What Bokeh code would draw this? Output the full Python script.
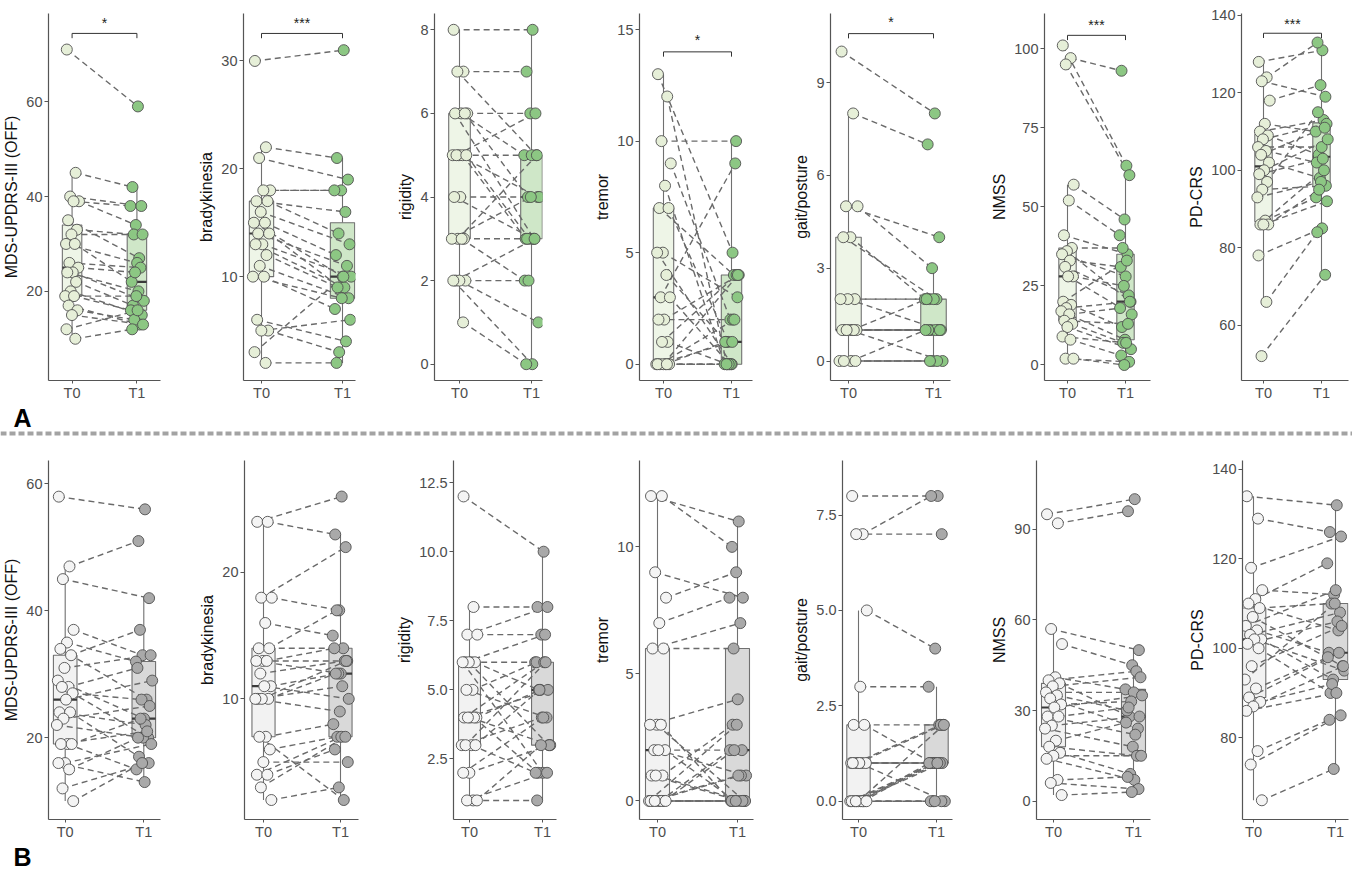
import numpy as np
from bokeh.plotting import figure
from bokeh.layouts import column, row
from bokeh.models import Range1d, FixedTicker, Label, Span
from bokeh.core.properties import value
from bokeh.embed import file_html
from bokeh.resources import INLINE

FONT = "Liberation Sans"

# ------------------------------------------------------------------ data
time_points = ["T0", "T1"]
measure_names = ["MDS-UPDRS-III (OFF)", "bradykinesia", "rigidity", "tremor",
                 "gait/posture", "NMSS", "PD-CRS"]
panel_letters = ["A", "B"]

# Row A (green)
a_updrs_t0 = [71, 45, 40, 39, 39, 35, 33, 32, 30, 30, 26, 25, 24, 24, 22, 20, 19, 19, 17, 16, 15, 12, 10]
a_updrs_t1 = [59, 42, 38, 34, 38, 27, 32, 32, 26, 22, 25, 24, 18, 20, 17, 15, 19, 16, 13, 14, 13, 16, 12]
a_brady_t0 = [30, 22, 21, 18, 18, 17, 17, 16, 15, 15, 14, 14, 13, 13, 12, 11, 10, 10, 6, 5, 5, 3, 2]
a_brady_t1 = [31, 21, 19, 18, 18, 16, 14, 13, 10, 12, 11, 9, 10, 9, 9, 8, 8, 7, 4, 3, 6, 10, 2]
a_rig_t0 = [8, 7, 7, 6, 6, 6, 6, 5, 5, 5, 5, 5, 4, 4, 3, 3, 3, 3, 2, 2, 2, 2, 1]
a_rig_t1 = [8, 7, 5, 6, 5, 3, 4, 4, 5, 3, 6, 3, 4, 3, 3, 5, 4, 2, 3, 2, 1, 0, 0]
a_trem_t0 = [13, 12, 10, 9, 8, 7, 7, 5, 5, 4, 3, 3, 2, 2, 1, 1, 0, 0, 0, 0, 0, 0, 0]
a_trem_t1 = [5, 0, 10, 2, 0, 4, 1, 3, 0, 1, 9, 0, 4, 2, 0, 4, 0, 1, 2, 0, 4, 1, 0]
a_gait_t0 = [10, 8, 5, 5, 4, 4, 2, 2, 2, 1, 1, 1, 1, 1, 1, 1, 0, 0, 0, 0]
a_gait_t1 = [8, 7, 4, 3, 2, 2, 2, 1, 2, 2, 1, 1, 0, 1, 1, 1, 0, 1, 0, 0]
a_nmss_t0 = [101, 97, 95, 57, 52, 41, 37, 36, 35, 33, 31, 28, 28, 20, 19, 18, 17, 16, 14, 13, 12, 9, 8, 2, 2]
a_nmss_t1 = [63, 93, 60, 46, 41, 35, 37, 20, 28, 31, 22, 25, 16, 33, 12, 20, 8, 18, 13, 7, 5, 7, 3, 1, 0]
a_pdcrs_t0 = [128, 124, 123, 118, 112, 110, 109, 108, 106, 105, 104, 102, 100, 99, 97, 95, 93, 87, 86, 86, 86, 78, 66, 52]
a_pdcrs_t1 = [131, 133, 119, 122, 110, 113, 104, 112, 106, 102, 111, 98, 108, 103, 115, 96, 97, 93, 100, 95, 92, 85, 84, 73]

# Row B (grey)
b_updrs_t0 = [58, 47, 45, 37, 35, 34, 33, 31, 29, 28, 28, 27, 26, 24, 24, 23, 22, 19, 19, 19, 16, 16, 15, 12, 10]
b_updrs_t1 = [56, 51, 42, 33, 32, 26, 37, 33, 23, 31, 20, 26, 29, 22, 17, 25, 20, 15, 21, 23, 19, 13, 20, 16, 16]
b_brady_t0 = [24, 24, 18, 18, 16, 14, 14, 13, 13, 13, 12, 11, 11, 10, 10, 10, 10, 7, 7, 6, 5, 4, 4, 3, 2]
b_brady_t1 = [26, 23, 22, 17, 15, 14, 17, 13, 12, 14, 13, 12, 10, 11, 12, 13, 9, 8, 2, 7, 5, 7, 6, 7, 3]
b_rig_t0 = [12, 8, 7, 7, 6, 6, 6, 6, 6, 5, 5, 4, 4, 4, 4, 4, 3, 3, 3, 3, 2, 2, 1, 1, 1]
b_rig_t1 = [10, 8, 8, 7, 6, 7, 5, 3, 2, 6, 4, 5, 3, 6, 2, 5, 4, 2, 6, 5, 3, 4, 1, 2, 3]
b_trem_t0 = [12, 12, 9, 8, 7, 6, 6, 3, 3, 3, 2, 2, 2, 1, 1, 1, 0, 0, 0, 0, 0, 0, 0, 0, 0]
b_trem_t1 = [11, 10, 8, 9, 8, 7, 6, 0, 4, 0, 2, 0, 1, 0, 3, 0, 3, 2, 1, 2, 0, 1, 0, 0, 0]
b_gait_t0 = [8, 7, 7, 5, 3, 2, 2, 1, 1, 1, 1, 1, 1, 1, 0, 0, 0, 0, 0, 0, 0, 0, 0, 0, 0]
b_gait_t1 = [8, 8, 7, 4, 3, 2, 1, 2, 1, 1, 2, 1, 0, 1, 1, 1, 1, 1, 1, 0, 2, 1, 0, 0, 0]
b_nmss_t0 = [95, 92, 57, 52, 41, 40, 39, 38, 36, 35, 34, 32, 31, 28, 28, 25, 24, 20, 18, 16, 15, 14, 7, 6, 2]
b_nmss_t1 = [100, 96, 50, 45, 37, 43, 28, 41, 36, 30, 24, 33, 35, 22, 31, 28, 18, 26, 15, 9, 15, 7, 8, 4, 3]
b_pdcrs_t0 = [134, 129, 118, 113, 111, 110, 109, 107, 105, 104, 103, 102, 102, 101, 100, 96, 93, 91, 89, 88, 87, 86, 77, 74, 66]
b_pdcrs_t1 = [132, 126, 125, 112, 119, 104, 110, 96, 113, 99, 108, 93, 95, 106, 90, 105, 110, 98, 99, 92, 96, 90, 84, 85, 73]

# tick values / labels
ticks_a = [[20, 40, 60], [10, 20, 30], [0, 2, 4, 6, 8], [0, 5, 10, 15], [0, 3, 6, 9],
           [0, 25, 50, 75, 100], [60, 80, 100, 120, 140]]
tick_labels_a = [["20", "40", "60"], ["10", "20", "30"], ["0", "2", "4", "6", "8"],
                 ["0", "5", "10", "15"], ["0", "3", "6", "9"], ["0", "25", "50", "75", "100"],
                 ["60", "80", "100", "120", "140"]]
ticks_b = [[20, 40, 60], [10, 20], [2.5, 5.0, 7.5, 10.0, 12.5], [0, 5, 10], [0.0, 2.5, 5.0, 7.5],
           [0, 30, 60, 90], [80, 100, 120, 140]]
tick_labels_b = [["20", "40", "60"], ["10", "20"], ["2.5", "5.0", "7.5", "10.0", "12.5"],
                 ["0", "5", "10"], ["0.0", "2.5", "5.0", "7.5"], ["0", "30", "60", "90"],
                 ["80", "100", "120", "140"]]

# y axis ranges
yrange_a = [(1.2, 78.6), (0.37, 34.4), (-0.39, 8.39), (-0.73, 15.72), (-0.63, 11.23),
            (-4.9, 111.1), (45.7, 140.5)]
yrange_b = [(7.1, 63.7), (0.46, 28.85), (0.31, 13.3), (-0.73, 13.4), (-0.48, 8.93),
            (-6.1, 112.8), (61.7, 142.0)]

# significance annotations (row A)
sig_labels_a = ["*", "***", None, "*", "*", "***", "***"]
sig_bracket_a = [74.4, 32.55, None, 14.0, 10.58, 104.2, 135.4]
sig_text_a = [76.7, 33.56, None, 14.51, 10.94, 107.4, 137.9]

series_a = [(a_updrs_t0, a_updrs_t1), (a_brady_t0, a_brady_t1), (a_rig_t0, a_rig_t1),
            (a_trem_t0, a_trem_t1), (a_gait_t0, a_gait_t1), (a_nmss_t0, a_nmss_t1),
            (a_pdcrs_t0, a_pdcrs_t1)]
series_b = [(b_updrs_t0, b_updrs_t1), (b_brady_t0, b_brady_t1), (b_rig_t0, b_rig_t1),
            (b_trem_t0, b_trem_t1), (b_gait_t0, b_gait_t1), (b_nmss_t0, b_nmss_t1),
            (b_pdcrs_t0, b_pdcrs_t1)]

# ------------------------------------------------------------------ layout (page pixels)
# (y-axis x, T0 x, T1 x, frame right, figure start, figure end)
geom_a = [(46, 70, 136, 160, 0, 164), (243, 261, 342, 355, 164, 359),
          (434, 459, 531, 542, 359, 546), (639, 663, 731, 752, 546, 756),
          (830, 848, 933, 950, 756, 954), (1044, 1067, 1125, 1150, 954, 1154),
          (1241, 1263, 1321, 1348, 1154, 1352)]
geom_b = [(46, 63, 143, 160, 0, 164), (244, 263, 340, 358, 164, 362),
          (453, 469, 542, 556, 362, 560), (639, 657, 737, 753, 560, 757),
          (842, 858, 936, 952, 757, 956), (1036, 1053, 1133, 1150, 956, 1154),
          (1242, 1253, 1335, 1348, 1154, 1352)]

pal_a = dict(pt0="#e6efd8", pt1="#8cc783", box0="#eef5e7", box1="#cfe7c8")
pal_b = dict(pt0="#f4f4f4", pt1="#a9a9a9", box0="#f2f2f2", box1="#d9d9d9")
BOX_LINE = "#707070"
MED_LINE = "#3a3a3a"
AXIS_COL = "#555555"
TOTAL_W = 1352


def jit(n, shift):
    k = np.arange(n)
    return ((k * 0.6180339887 + shift) % 1.0 - 0.5) * 0.22


def panel(name, t0, t1, ticks, labels, yr, geom, pal, height, btop, bbot, sig=None):
    axis_px, t0_px, t1_px, right_px, start_px, end_px = geom
    unit = float(t1_px - t0_px)
    xs0 = 1 - (t0_px - axis_px) / unit
    xs1 = 2 + (right_px - t1_px) / unit
    p = figure(width=end_px - start_px, height=height,
               x_range=Range1d(xs0, xs1), y_range=Range1d(*yr),
               toolbar_location=None, output_backend="svg", title=None,
               min_border_left=axis_px - start_px, min_border_right=end_px - right_px,
               min_border_top=btop, min_border_bottom=bbot)
    p.outline_line_color = None
    p.xgrid.visible = False
    p.ygrid.visible = False
    p.background_fill_color = "white"
    p.border_fill_color = "white"

    v0 = np.asarray(t0, float)
    v1 = np.asarray(t1, float)
    j0 = jit(len(v0), 0.13)
    j1 = jit(len(v1), 0.57)

    for pos, v, fill in ((1, v0, pal["box0"]), (2, v1, pal["box1"])):
        q1, med, q3 = np.percentile(v, [25, 50, 75])
        iqr = q3 - q1
        lo = v[v >= q1 - 1.5 * iqr].min()
        hi = v[v <= q3 + 1.5 * iqr].max()
        p.segment(x0=[pos, pos], y0=[q3, q1], x1=[pos, pos], y1=[hi, lo],
                  line_color=BOX_LINE, line_width=1.1)
        p.quad(left=[pos - 0.15], right=[pos + 0.15], bottom=[q1], top=[q3],
               fill_color=fill, line_color=BOX_LINE, line_width=1.1)
        p.segment(x0=[pos - 0.15], x1=[pos + 0.15], y0=[med], y1=[med],
                  line_color=MED_LINE, line_width=2.2)

    xs = [[1 + a, 2 + b] for a, b in zip(j0, j1)]
    ys = [[a, b] for a, b in zip(v0, v1)]
    p.multi_line(xs=xs, ys=ys, line_color="#6a6a6a", line_width=1.4, line_dash="6 4")
    p.scatter(x=1 + j0, y=v0, size=11, fill_color=pal["pt0"], line_color="#505050", line_width=0.9)
    p.scatter(x=2 + j1, y=v1, size=11, fill_color=pal["pt1"], line_color="#505050", line_width=0.9)

    if sig is not None and sig[0]:
        lab, by, sy = sig
        d = 0.013 * (yr[1] - yr[0])
        p.line(x=[1, 1, 2, 2], y=[by - d, by, by, by - d], line_color="#333333", line_width=1)
        p.text(x=[1.5], y=[sy], text=[lab], text_align="center", text_baseline="middle",
               text_font=value(FONT), text_font_size="14px", text_color="#222222")

    p.xaxis.ticker = FixedTicker(ticks=[1, 2])
    p.xaxis.major_label_overrides = {1: time_points[0], 2: time_points[1]}
    p.yaxis.ticker = FixedTicker(ticks=list(ticks))
    p.yaxis.major_label_overrides = {t: l for t, l in zip(ticks, labels)}
    for ax in (p.xaxis[0], p.yaxis[0]):
        ax.axis_line_color = AXIS_COL
        ax.axis_line_width = 1.2
        ax.major_tick_line_color = AXIS_COL
        ax.major_tick_out = 4
        ax.major_tick_in = 0
        ax.minor_tick_line_color = None
        ax.major_label_text_font = FONT
        ax.major_label_text_font_size = "14.5px"
        ax.major_label_text_color = "#4d4d4d"
        ax.major_label_standoff = 2
    p.xaxis.major_tick_out = 3
    p.xaxis.major_label_standoff = 1
    p.yaxis.axis_label = name
    p.yaxis.axis_label_text_font = FONT
    p.yaxis.axis_label_text_font_size = "16px"
    p.yaxis.axis_label_text_font_style = "normal"
    p.yaxis.axis_label_text_color = "#111111"
    p.yaxis.axis_label_standoff = 3
    return p


def band(height, letter, line_y=None):
    b = figure(width=TOTAL_W, height=height, x_range=Range1d(0, TOTAL_W),
               y_range=Range1d(0, height), toolbar_location=None, output_backend="svg",
               title=None, min_border=0, x_axis_type=None, y_axis_type=None)
    b.outline_line_color = None
    b.background_fill_color = "white"
    b.border_fill_color = "white"
    if line_y is not None:
        b.add_layout(Span(location=line_y, dimension="width", line_color="#a3a3a3",
                          line_width=4, line_dash="6 3"))
    b.add_layout(Label(x=13, y=height, x_units="screen", y_units="screen",
                       text=letter, text_font=FONT, text_font_size="25px",
                       text_font_style="bold", text_baseline="top", text_align="left",
                       text_color="black"))
    return b


figs_a = [panel(measure_names[i], series_a[i][0], series_a[i][1], ticks_a[i],
                tick_labels_a[i], yrange_a[i], geom_a[i], pal_a, 403, 13, 21,
                sig=(sig_labels_a[i], sig_bracket_a[i], sig_text_a[i]))
          for i in range(7)]
figs_b = [panel(measure_names[i], series_b[i][0], series_b[i][1], ticks_b[i],
                tick_labels_b[i], yrange_b[i], geom_b[i], pal_b, 402, 20, 21)
          for i in range(7)]

band_a = band(37, panel_letters[0], line_y=7)
band_b = band(28, panel_letters[1])

layout = column(row(*figs_a, spacing=0), band_a, row(*figs_b, spacing=0), band_b, spacing=0)

open("out.html", "w").write(file_html(layout, INLINE))
